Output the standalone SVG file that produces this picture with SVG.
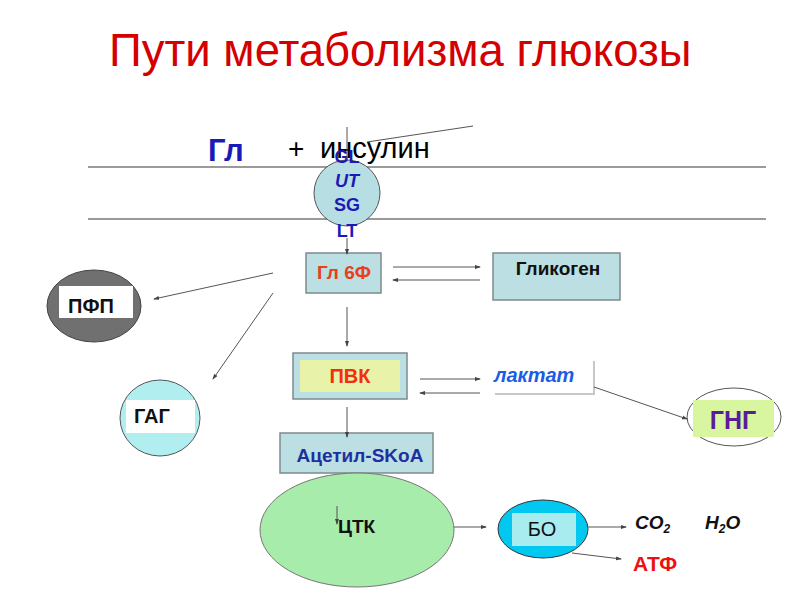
<svg xmlns="http://www.w3.org/2000/svg" width="800" height="600" viewBox="0 0 800 600">
<style>
text{font-family:"Liberation Sans",Arial,sans-serif}
.b{font-weight:bold}
.box{fill:#bbdfe2;stroke:#7d8b8d;stroke-width:1.5}
.c{stroke:#555;stroke-width:1;fill:none}
.ca{stroke:#555;stroke-width:1;fill:none;marker-end:url(#ah)}
.mem{stroke:#9a9a9a;stroke-width:2}
</style>
<defs>
<marker id="ah" markerWidth="6" markerHeight="6" refX="5" refY="3" orient="auto" markerUnits="userSpaceOnUse">
<path d="M0,1 L6,3 L0,5 Z" fill="#444"/>
</marker>
</defs>
<rect width="800" height="600" fill="#fff"/>
<text x="109" y="66" font-size="45.5" fill="#d40000">Пути метаболизма глюкозы</text>
<g id="membrane">
<line class="mem" x1="88" y1="167" x2="766" y2="167"/>
<line class="mem" x1="88" y1="219" x2="766" y2="219"/>
</g>
<g id="gl">
<text x="208" y="161" font-size="31" class="b" fill="#1a1ab8">Гл</text>
<text x="288" y="158" font-size="28" fill="#000">+</text>
<text x="320" y="158" font-size="29" fill="#000">инсулин</text>
</g>
<g id="glut">
<circle cx="347" cy="193" r="33" fill="#b7dfe3" stroke="#555" stroke-width="1"/>
<g font-size="18" class="b" fill="#1a1ab8" text-anchor="middle">
<text x="347" y="163">GL</text>
<text x="347" y="187" font-style="italic">UT</text>
<text x="347" y="211">SG</text>
<text x="347" y="237">LT</text>
</g>
</g>
<g id="gl6f">
<rect class="box" x="306" y="253" width="75" height="40"/>
<text x="344" y="279" font-size="19" class="b" fill="#e8401c" text-anchor="middle">Гл 6Ф</text>
</g>
<g id="glycogen">
<rect class="box" x="493" y="253" width="127" height="47"/>
<text x="558" y="275" font-size="19" class="b" fill="#111" text-anchor="middle">Гликоген</text>
</g>
<g id="pfp">
<ellipse cx="94" cy="306" rx="47" ry="36" fill="#707070" stroke="#444" stroke-width="1"/>
<rect x="59" y="286" width="74" height="32" fill="#fff"/>
<text x="68" y="313" font-size="20" class="b" fill="#111">ПФП</text>
</g>
<g id="gag">
<ellipse cx="160" cy="418" rx="40" ry="38" fill="#b0eef0" stroke="#555" stroke-width="1"/>
<rect x="126" y="400" width="69" height="33" fill="#fff"/>
<text x="134" y="423" font-size="20" class="b" fill="#111">ГАГ</text>
</g>
<g id="pvk">
<rect class="box" x="293" y="353" width="114" height="46"/>
<rect x="300" y="360" width="100" height="32" fill="#e8f2a8"/>
<text x="350" y="383" font-size="20" class="b" fill="#f03010" text-anchor="middle">ПВК</text>
</g>
<g id="laktat">
<rect x="495" y="361" width="100" height="34" fill="#c8c8c8"/>
<rect x="493" y="359" width="100" height="34" fill="#fff"/>
<text x="494" y="382" font-size="20" class="b" font-style="italic" fill="#1a5ce6">лактат</text>
</g>
<g id="gng">
<ellipse cx="734" cy="417" rx="47" ry="29" fill="#fff" stroke="#555" stroke-width="1"/>
<rect x="693" y="400" width="81" height="37" fill="#d8f5a0"/>
<text x="733" y="429" font-size="25" class="b" fill="#5b1c9c" text-anchor="middle">ГНГ</text>
</g>
<g id="acetyl">
<rect class="box" x="280" y="433" width="153" height="40"/>
<text x="360" y="462" font-size="19" class="b" fill="#1f2fa0" text-anchor="middle">Ацетил-SKoA</text>
</g>
<g id="tck">
<ellipse cx="357" cy="530" rx="97" ry="57" fill="#a8ecac" stroke="#777" stroke-width="1"/>
<text x="338" y="533" font-size="19" class="b" fill="#111">ЦТК</text>
</g>
<g id="bo">
<ellipse cx="543" cy="529" rx="45" ry="29" fill="#00c8f0" stroke="#333" stroke-width="1"/>
<rect x="512" y="513" width="64" height="33" fill="#a8ecf0"/>
<text x="542" y="536" font-size="20" fill="#111" text-anchor="middle">БО</text>
</g>
<g id="products" class="b" font-style="italic" fill="#111">
<text x="635" y="529" font-size="19">CO<tspan font-size="12" dy="4">2</tspan></text>
<text x="705" y="529" font-size="19">H<tspan font-size="12" dy="4">2</tspan><tspan dy="-4">O</tspan></text>
</g>
<g id="atf">
<text x="633" y="571" font-size="21" class="b" fill="#ee1111">АТФ</text>
</g>
<g id="connectors">
<line class="c" x1="347" y1="127" x2="347" y2="160"/>
<line class="c" x1="367" y1="142" x2="473" y2="126"/>
<line class="ca" x1="347" y1="238" x2="347" y2="254"/>
<line class="ca" x1="393" y1="267" x2="480" y2="267"/>
<line class="ca" x1="480" y1="280" x2="393" y2="280"/>
<line class="ca" x1="347" y1="307" x2="347" y2="346"/>
<line class="ca" x1="273" y1="273" x2="154" y2="299"/>
<line class="ca" x1="273" y1="293" x2="213" y2="379"/>
<line class="ca" x1="420" y1="379" x2="480" y2="379"/>
<line class="ca" x1="480" y1="393" x2="420" y2="393"/>
<line class="ca" x1="594" y1="387" x2="687" y2="419"/>
<line class="ca" x1="347" y1="407" x2="347" y2="437"/>
<line class="ca" x1="337" y1="506" x2="337" y2="524"/>
<line class="ca" x1="454" y1="527" x2="486" y2="527"/>
<line class="ca" x1="588" y1="527" x2="626" y2="527"/>
<line class="ca" x1="572" y1="553" x2="621" y2="559"/>
</g>
</svg>
